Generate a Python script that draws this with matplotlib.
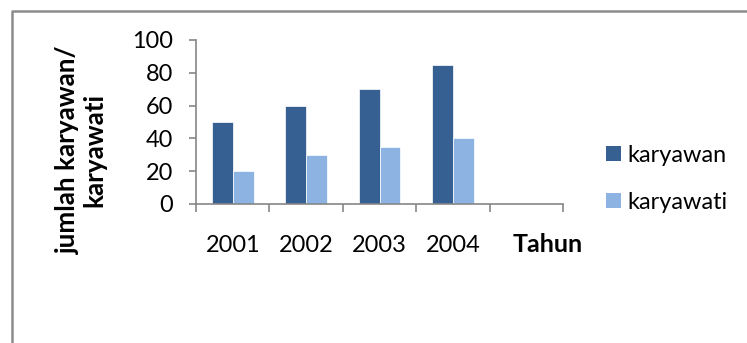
import matplotlib
matplotlib.use("Agg")
import matplotlib.pyplot as plt
from matplotlib.lines import Line2D
from matplotlib.patches import Patch
import numpy as np

categories = ["2001", "2002", "2003", "2004", ""]
karyawan = [50, 60, 70, 85]
karyawati = [20, 30, 35, 40]
series_names = ["karyawan", "karyawati"]
yticks = [0, 20, 40, 60, 80, 100]

W, H = 747, 343
DPI = 100
fig = plt.figure(figsize=(W / DPI, H / DPI), dpi=DPI)
plt.rcParams['font.family'] = ['Lato', 'DejaVu Sans']

def px(v):  # pixels -> points
    return v * 72 / DPI

fs = px(23.5)
c_dark = "#376092"
c_light = "#8DB3E2"
gray = "#868686"

ax = fig.add_axes([196 / W, 1 - 204 / H, (563 - 196) / W, (204 - 40) / H])
n = len(categories)
x = np.arange(len(karyawan)) + 0.5
bw = 0.286
ax.bar(x - bw / 2, karyawan, bw, color=c_dark, edgecolor="white", linewidth=0.5)
ax.bar(x + bw / 2, karyawati, bw, color=c_light, edgecolor="white", linewidth=0.5)

ax.set_xlim(0, n)
ax.set_ylim(0, 100)
for s in ["top", "right"]:
    ax.spines[s].set_visible(False)
for s in ["left", "bottom"]:
    ax.spines[s].set_color(gray)
    ax.spines[s].set_linewidth(1.2)
    ax.spines[s].set_clip_on(False)

ax.set_yticks(yticks)
ax.set_yticklabels([str(v) for v in yticks], fontsize=fs)
ax.tick_params(axis="y", length=px(7), width=1.2, color=gray, pad=px(16))

ax.set_xticks(np.arange(n + 1))
ax.set_xticklabels([])
ax.tick_params(axis="x", which="major", length=px(8), width=1.2, color=gray)
ax.set_xticks(np.arange(n) + 0.5, minor=True)
ax.set_xticklabels(categories, minor=True, fontsize=fs)
ax.tick_params(axis="x", which="minor", length=0, pad=px(31))

fig.text(548 / W, 1 - 245 / H, "Tahun", fontsize=px(25),
         fontweight="bold", ha="center", va="center")

fig.text(81 / W, 1 - 150 / H, "jumlah karyawan/\nkaryawati", rotation=90,
         fontsize=px(26), fontweight="bold", ha="center", va="center",
         linespacing=1.12)

handles = [Patch(facecolor=c_dark, edgecolor="none"),
           Patch(facecolor=c_light, edgecolor="none")]
fig.legend(handles, series_names, loc="center left",
           bbox_to_anchor=(606 / W, 1 - 179 / H), frameon=False,
           fontsize=fs, handlelength=0.62, handleheight=0.62,
           handletextpad=0.3, labelspacing=1.1, borderaxespad=0, borderpad=0)

fig.add_artist(Line2D([12 / W, 12 / W, 1], [0, 1 - 11 / H, 1 - 11 / H],
                      transform=fig.transFigure, color="#8C8C8C", linewidth=px(2.5)))

fig.savefig("out.png", dpi=DPI)
